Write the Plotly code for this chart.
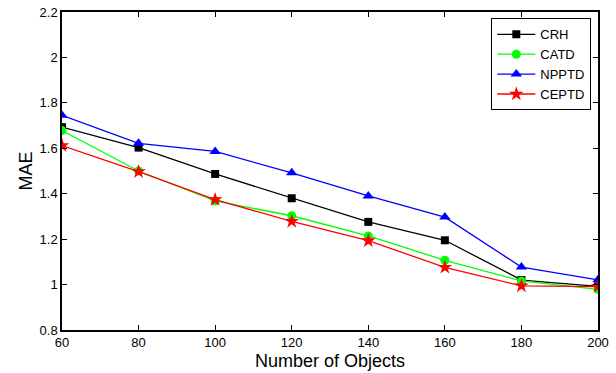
import plotly.graph_objects as go

x_objects = [60, 80, 100, 120, 140, 160, 180, 200]
crh = [1.693, 1.603, 1.487, 1.380, 1.276, 1.195, 1.020, 0.992]
catd = [1.678, 1.500, 1.368, 1.303, 1.214, 1.107, 1.016, 0.979]
npptd = [1.745, 1.622, 1.586, 1.492, 1.390, 1.297, 1.077, 1.021]
ceptd = [1.612, 1.497, 1.374, 1.278, 1.193, 1.076, 0.994, 0.991]

series = [
    ("CRH", crh, "black", "square", 8),
    ("CATD", catd, "#00ff00", "circle", 9),
    ("NPPTD", npptd, "blue", "triangle-up", 10),
    ("CEPTD", ceptd, "red", "star", 11),
]

fig = go.Figure()
for name, vals, col, sym, sz in series:
    fig.add_trace(go.Scatter(
        x=x_objects, y=vals, name=name, mode="lines+markers",
        line=dict(color=col, width=1.3),
        marker=dict(symbol=sym, size=sz, color=col, line=dict(width=0)),
    ))

axis_common = dict(
    showline=True, linecolor="black", linewidth=1.5, mirror="ticks",
    ticks="inside", ticklen=5, tickcolor="black", tickwidth=1,
    showgrid=False, zeroline=False, automargin=False,
    tickfont=dict(family="Liberation Sans, Arial", size=13, color="black"),
)

fig.update_layout(
    width=616, height=373,
    margin=dict(l=62, r=18, t=12, b=43),
    paper_bgcolor="white", plot_bgcolor="white",
    font=dict(family="Liberation Sans, Arial", color="black"),
    xaxis=dict(range=[60, 200], tickvals=x_objects,
               title=dict(text="Number of Objects", font=dict(size=18), standoff=5),
               **axis_common),
    yaxis=dict(range=[0.8, 2.2], tickvals=[0.8, 1.0, 1.2, 1.4, 1.6, 1.8, 2.0, 2.2],
               ticktext=["0.8", "1", "1.2", "1.4", "1.6", "1.8", "2", "2.2"],
               title=dict(text="MAE", font=dict(size=18), standoff=2),
               **axis_common),
    legend=dict(x=0.9875, y=0.98, xanchor="right", yanchor="top",
                bordercolor="black", borderwidth=1, bgcolor="white",
                font=dict(size=13), tracegroupgap=0, itemwidth=38),
    showlegend=True,
)

fig.write_html("out.html")
